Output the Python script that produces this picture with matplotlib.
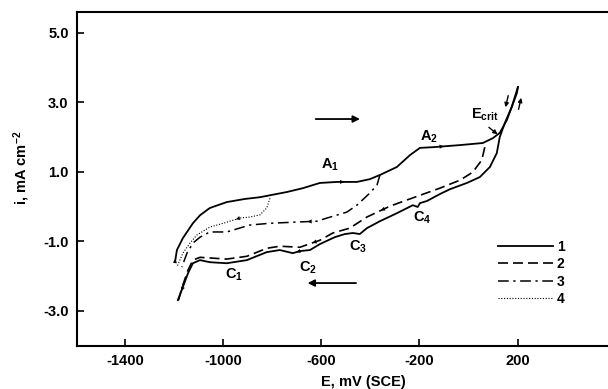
import numpy as np
import matplotlib
matplotlib.use('Agg')
import matplotlib.pyplot as plt

plt.rcParams['font.family'] = ['Liberation Sans', 'DejaVu Sans']
plt.rcParams['axes.unicode_minus'] = False
plt.rcParams['mathtext.default'] = 'regular'

# curve 1 (solid), forward sweep
e1_fwd = [-1196, -1188, -1164, -1123, -1094, -1054, -985, -911, -850, -740, -675, -606,
          -536, -455, -402, -361, -292, -239, -198, -145, -35, 58, 99, 127, 156, 176,
          197, 201]
i1_fwd = [-1.60, -1.25, -0.91, -0.48, -0.25, -0.04, 0.13, 0.22, 0.27, 0.42, 0.53, 0.68,
          0.71, 0.71, 0.79, 0.91, 1.14, 1.48, 1.69, 1.71, 1.77, 1.83, 1.97, 2.12, 2.49,
          2.87, 3.27, 3.44]
# curve 1, reverse sweep
e1_rev = [201, 176, 148, 127, 115, 87, 46, -7, -76, -117, -170, -198, -207, -227, -292,
          -361, -414, -443, -471, -504, -545, -606, -646, -687, -716, -769, -822, -903,
          -985, -1054, -1094, -1123, -1143, -1164, -1184]
i1_rev = [3.44, 2.87, 2.41, 2.00, 1.54, 1.14, 0.85, 0.68, 0.50, 0.36, 0.16, 0.10, -0.01,
          0.04, -0.19, -0.42, -0.62, -0.79, -0.76, -0.79, -0.88, -1.08, -1.25, -1.28,
          -1.34, -1.25, -1.31, -1.54, -1.63, -1.60, -1.54, -1.63, -1.92, -2.32, -2.69]

# curve 2 (dashed), reverse from about +65 mV
e2 = [66, 54, 17, -35, -117, -251, -321, -414, -484, -553, -606, -687, -769, -822,
      -903, -985, -1094, -1123, -1143, -1164, -1184]
i2 = [1.71, 1.34, 0.99, 0.76, 0.53, 0.19, 0.01, -0.30, -0.62, -0.76, -0.97, -1.17,
      -1.14, -1.20, -1.43, -1.51, -1.46, -1.54, -1.83, -2.26, -2.75]

# curve 3 (dash-dot), reverse from about -360 mV
e3 = [-361, -373, -402, -455, -496, -577, -618, -716, -809, -891, -985, -1054, -1094,
      -1123, -1147, -1168]
i3 = [0.91, 0.62, 0.39, 0.04, -0.16, -0.33, -0.42, -0.45, -0.48, -0.53, -0.73, -0.73,
      -0.88, -1.05, -1.34, -1.74]

# curve 4 (dotted), reverse from about -810 mV
e4 = [-809, -822, -850, -891, -932, -985, -1054, -1107, -1135, -1164, -1188]
i4 = [0.24, -0.04, -0.24, -0.30, -0.33, -0.45, -0.59, -0.82, -1.05, -1.34, -1.74]

xticks = [-1400, -1000, -600, -200, 200]
yticks = [5.0, 3.0, 1.0, -1.0, -3.0]
legend_labels = ['1', '2', '3', '4']

fig = plt.figure(figsize=(6.08, 3.89), dpi=100)
ax = fig.add_axes([77/608, 43.4/389, 531/608, 333.6/389])

lw = 1.3
ax.plot(e1_fwd, i1_fwd, 'k-', lw=lw)
ax.plot(e1_rev, i1_rev, 'k-', lw=lw)
ax.plot(e2, i2, 'k', ls=(0, (6, 3)), lw=1.2)
ax.plot(e3, i3, 'k', ls=(0, (7, 3, 1.5, 3)), lw=1.1)
ax.plot(e4, i4, 'k', ls=(0, (1, 1.5)), lw=0.8)


def head(x, y, k):
    # small arrowhead along a curve, between points k and k+1
    xm = (x[k] + x[k + 1]) / 2
    ym = (y[k] + y[k + 1]) / 2
    ax.annotate('', xy=(xm, ym), xytext=(x[k], y[k]),
                arrowprops=dict(arrowstyle='-|>', color='k', lw=0.1, mutation_scale=7))


head(e1_fwd, i1_fwd, 0)
head(e1_fwd, i1_fwd, 12)
head(e1_fwd, i1_fwd, 19)
head(e1_rev, i1_rev, 23)
head(e1_rev, i1_rev, 33)
head(e2, i2, 6)
head(e2, i2, 10)
head(e3, i3, 6)
head(e4, i4, 4)

# sweep direction arrows
ax.annotate('', xy=(-431, 2.52), xytext=(-634, 2.52),
            arrowprops=dict(arrowstyle='-|>', color='k', lw=1.3, mutation_scale=10))
ax.annotate('', xy=(-667, -2.20), xytext=(-447, -2.20),
            arrowprops=dict(arrowstyle='-|>', color='k', lw=1.3, mutation_scale=10))
ax.annotate('', xy=(148, 2.78), xytext=(164, 3.27),
            arrowprops=dict(arrowstyle='-|>', color='k', lw=1.0, mutation_scale=6))
ax.annotate('', xy=(217, 3.21), xytext=(201, 2.72),
            arrowprops=dict(arrowstyle='-|>', color='k', lw=1.0, mutation_scale=6))
ax.annotate('', xy=(127, 2.03), xytext=(74, 2.33),
            arrowprops=dict(arrowstyle='-|>', color='k', lw=1.0, mutation_scale=6))

tkw = dict(fontsize=10.5, fontweight='bold', ha='center', va='center')
ax.text(66, 2.65, r'E$_{crit}$', **tkw)
ax.text(-565, 1.20, r'A$_1$', **tkw)
ax.text(-162, 2.00, r'A$_2$', **tkw)
ax.text(-956, -1.97, r'C$_1$', **tkw)
ax.text(-655, -1.77, r'C$_2$', **tkw)
ax.text(-451, -1.17, r'C$_3$', **tkw)
ax.text(-190, -0.33, r'C$_4$', **tkw)

# legend drawn as in the original (no frame)
styles = [dict(ls='-', lw=1.3), dict(ls=(0, (6, 3)), lw=1.2),
          dict(ls=(0, (7, 3, 1.5, 3)), lw=1.1), dict(ls=(0, (1, 1.5)), lw=0.8)]
handles = [plt.Line2D([], [], color='k', **s) for s in styles]
leg = ax.legend(handles, legend_labels, loc='upper left', bbox_to_anchor=(0.77, 0.355),
                frameon=False, handlelength=3.9, handletextpad=0.3, labelspacing=0.25,
                prop=dict(family='Liberation Sans', weight='bold', size=10))

ax.set_xlim(-1595, 568)
ax.set_ylim(-4.0, 5.6)
ax.set_xticks(xticks)
ax.set_xticklabels([str(v) for v in xticks])
ax.set_yticks(yticks)
ax.set_yticklabels(['%.1f' % v for v in yticks])
ax.tick_params(direction='in', length=5, width=1.2, labelsize=10.5, pad=6)
for t in ax.get_xticklabels() + ax.get_yticklabels():
    t.set_fontweight('bold')
for s in ['left', 'bottom', 'top']:
    ax.spines[s].set_linewidth(1.5)
ax.spines['right'].set_visible(False)

ax.set_xlabel('E, mV (SCE)', fontsize=10.5, fontweight='bold')
ax.xaxis.set_label_coords((363 - 77) / 531, -0.088)
ax.set_ylabel(r'i, mA cm$^{-2}$', fontsize=10.5, fontweight='bold')
ax.yaxis.set_label_coords(-0.085, (389 - 168 - 43.4) / 333.6)

fig.savefig('out.png', dpi=100)
